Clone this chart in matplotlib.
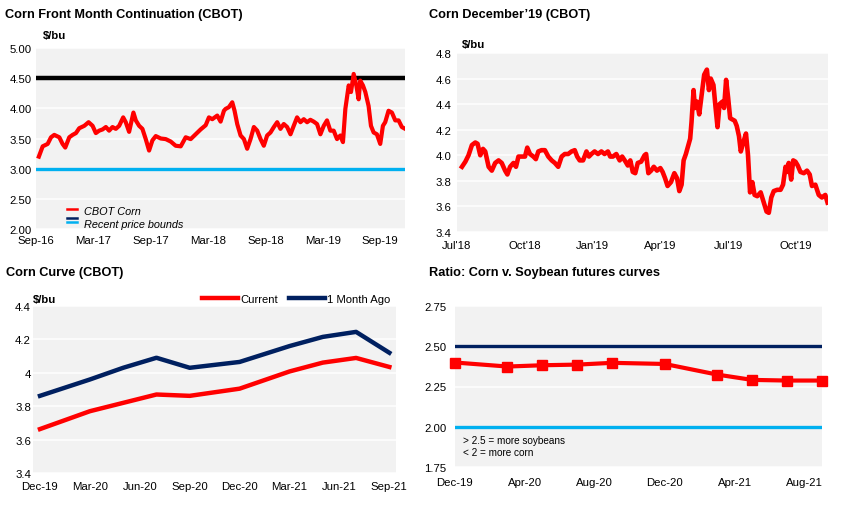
import matplotlib
matplotlib.use('Agg')
import matplotlib.pyplot as plt
from matplotlib.lines import Line2D
from matplotlib.legend_handler import HandlerBase

plt.rcParams['font.family'] = ['Liberation Sans', 'DejaVu Sans']

RED = '#FF0000'
NAVY = '#002060'
LBLUE = '#00B0F0'
GRAY = '#F2F2F2'

# --- Corn front month continuation (months since Sep-16) ---
front_m = [0.3, 0.70, 1.22, 1.57, 1.91, 2.44, 2.78, 3.06, 3.48, 3.83, 4.18, 4.52, 5.05, 5.50,
           5.92, 6.26, 6.61, 6.96, 7.31, 7.65, 8.00, 8.35, 8.70, 9.12, 9.39, 9.74, 10.19, 10.44,
           10.79, 11.13, 11.48, 11.83, 12.18, 12.53, 13.05, 13.57, 14.09, 14.61, 15.14, 15.66,
           16.18, 16.70, 17.22, 17.75, 18.09, 18.44, 18.96, 19.31, 19.66, 19.83, 20.18, 20.53,
           20.77, 21.05, 21.40, 21.75, 22.09, 22.44, 22.79, 23.14, 23.49, 23.83, 24.18, 24.53,
           24.88, 25.23, 25.57, 25.92, 26.27, 26.62, 26.96, 27.31, 27.66, 28.01, 28.36, 28.70,
           29.05, 29.40, 29.75, 30.10, 30.44, 30.79, 31.14, 31.49, 31.84, 32.11, 32.36, 32.71,
           32.95, 33.23, 33.51, 33.75, 33.92, 34.20, 34.45, 34.79, 35.04, 35.32, 35.66, 36.01,
           36.29, 36.53, 36.88, 37.23, 37.58, 37.93, 38.27, 38.62]
front_v = [3.20, 3.37, 3.41, 3.52, 3.56, 3.52, 3.41, 3.35, 3.52, 3.56, 3.59, 3.67, 3.71, 3.77,
           3.71, 3.59, 3.63, 3.65, 3.69, 3.63, 3.69, 3.66, 3.71, 3.85, 3.77, 3.61, 3.93, 3.80,
           3.71, 3.66, 3.49, 3.30, 3.47, 3.54, 3.50, 3.49, 3.45, 3.38, 3.37, 3.52,
           3.49, 3.57, 3.65, 3.72, 3.85, 3.82, 3.88, 3.78, 3.96, 3.99, 4.02, 4.10,
           3.96, 3.74, 3.55, 3.49, 3.33, 3.49, 3.69, 3.63, 3.49, 3.38, 3.55, 3.60,
           3.69, 3.77, 3.66, 3.74, 3.69, 3.57, 3.71, 3.85, 3.77, 3.82, 3.77, 3.81,
           3.78, 3.74, 3.57, 3.71, 3.80, 3.63, 3.63, 3.49, 3.55, 3.44, 3.99, 4.38,
           4.27, 4.57, 4.38, 4.15, 4.46, 4.38, 4.27, 4.04, 3.71, 3.60, 3.57, 3.41,
           3.71, 3.77, 3.96, 3.93, 3.80, 3.80, 3.69, 3.66]
front_ticks = ['Sep-16', 'Mar-17', 'Sep-17', 'Mar-18', 'Sep-18', 'Mar-19', 'Sep-19']
upper_bound = 4.5
lower_bound = 3.0

# --- Corn December'19 (months since Jul-18) ---
dec_m = [0.22, 0.37, 0.51, 0.66, 0.81, 0.91, 1.03, 1.15, 1.25, 1.40, 1.54, 1.69, 1.84, 1.98,
         2.13, 2.23, 2.35, 2.50, 2.61, 2.72, 2.86, 3.01, 3.11, 3.23, 3.38, 3.49, 3.60, 3.74,
         3.89, 4.04, 4.19, 4.33, 4.48, 4.63, 4.77, 4.92, 5.07, 5.21, 5.32, 5.43, 5.58, 5.73,
         5.84, 5.95, 6.09, 6.24, 6.39, 6.53, 6.68, 6.78, 6.90, 7.05, 7.20, 7.31, 7.46, 7.56,
         7.67, 7.78, 7.89, 8.00, 8.15, 8.30, 8.37, 8.47, 8.59, 8.71, 8.85, 9.00, 9.10, 9.21,
         9.32, 9.47, 9.62, 9.74, 9.84, 9.94, 10.03, 10.13, 10.24, 10.32, 10.38, 10.47, 10.53,
         10.62, 10.72, 10.82, 10.94, 11.06, 11.15, 11.23, 11.35, 11.44, 11.53, 11.62, 11.75,
         11.82, 11.91, 12.00, 12.09, 12.19, 12.29, 12.38, 12.48, 12.56, 12.67, 12.79, 12.88,
         12.97, 13.07, 13.17, 13.29, 13.44, 13.58, 13.70, 13.80, 13.91, 14.02, 14.17, 14.32,
         14.43, 14.54, 14.61, 14.68, 14.79, 14.88, 14.98, 15.08, 15.20, 15.35, 15.49, 15.61,
         15.71, 15.86, 16.01, 16.15, 16.30, 16.40]
dec_v = [3.91, 3.95, 4.00, 4.08, 4.10, 4.09, 4.00, 4.05, 4.03, 3.91, 3.88, 3.94, 3.96, 3.94,
         3.88, 3.85, 3.91, 3.94, 3.91, 3.99, 3.99, 3.99, 4.06, 4.01, 3.99, 3.97, 4.03, 4.04,
         4.04, 3.99, 3.96, 3.94, 3.91, 3.99, 4.01, 4.01, 4.03, 4.04, 3.99, 3.96, 3.96, 4.03,
         3.99, 4.01, 4.03, 4.01, 4.03, 4.01, 4.03, 3.99, 3.99, 4.01, 3.96, 3.99, 3.95, 3.92,
         3.96, 3.87, 3.86, 3.94, 3.95, 4.00, 4.01, 3.86, 3.88, 3.91, 3.88, 3.90, 3.87, 3.82,
         3.76, 3.79, 3.86, 3.82, 3.72, 3.77, 3.96, 4.01, 4.08, 4.13, 4.26, 4.51, 4.37,
         4.42, 4.32, 4.46, 4.63, 4.67, 4.51, 4.60, 4.55, 4.38, 4.22, 4.40, 4.42,
         4.37, 4.59, 4.45, 4.29, 4.28, 4.27, 4.23, 4.15, 4.03, 4.10, 4.17, 4.00,
         3.71, 3.79, 3.69, 3.68, 3.71, 3.63, 3.56, 3.55, 3.67, 3.72, 3.73, 3.73,
         3.77, 3.91, 3.87, 3.94, 3.81, 3.96, 3.95, 3.92, 3.87, 3.86, 3.88, 3.85,
         3.76, 3.77, 3.69, 3.67, 3.69, 3.63]
dec_ticks = ["Jul'18", "Oct'18", "Jan'19", "Apr'19", "Jul'19", "Oct'19"]

# --- Futures curves (months since Dec-19) ---
contract_m = [0, 3, 5, 7, 9, 12, 15, 17, 19, 21]
curve_now = [3.663, 3.770, 3.820, 3.870, 3.862, 3.905, 4.008, 4.061, 4.089, 4.035]
curve_month_ago = [3.862, 3.960, 4.030, 4.090, 4.030, 4.065, 4.160, 4.215, 4.245, 4.120]
curve_ticks = ['Dec-19', 'Mar-20', 'Jun-20', 'Sep-20', 'Dec-20', 'Mar-21', 'Jun-21', 'Sep-21']
ratio = [2.399, 2.374, 2.382, 2.386, 2.397, 2.390, 2.324, 2.291, 2.287, 2.287]
ratio_ticks = ['Dec-19', 'Apr-20', 'Aug-20', 'Dec-20', 'Apr-21', 'Aug-21']
ratio_hi = 2.5
ratio_lo = 2.0

W, H = 841, 506
TICK = 8.2
TITLE = 9.2
fig = plt.figure(figsize=(W / 100, H / 100), dpi=100)


def px_axes(l, t, r, b):
    ax = fig.add_axes([l / W, 1 - b / H, (r - l) / W, (b - t) / H])
    ax.set_facecolor(GRAY)
    for s in ax.spines.values():
        s.set_visible(False)
    ax.grid(axis='y', color='white', lw=1.1)
    ax.set_axisbelow(True)
    ax.tick_params(length=0, labelsize=TICK, colors='black')
    return ax


class StackedHandler(HandlerBase):
    def __init__(self, colors, fracs):
        super().__init__()
        self.colors = colors
        self.fracs = fracs

    def create_artists(self, legend, orig_handle, xdescent, ydescent, width, height, fontsize, trans):
        arts = []
        for c, f in zip(self.colors, self.fracs):
            arts.append(Line2D([-xdescent, -xdescent + width], [-ydescent + height * f] * 2,
                               color=c, lw=1.8, transform=trans))
        return arts


# chart 1
ax1 = px_axes(36, 49, 405, 230)
line1, = ax1.plot(front_m, front_v, color=RED, lw=3, zorder=3)
ax1.axhline(upper_bound, color='black', lw=3.2, zorder=2)
bnd = ax1.axhline(lower_bound, color=LBLUE, lw=2.4, zorder=2)
ax1.set_xlim(0, 38.6)
ax1.set_ylim(2.0, 5.0)
ax1.set_yticks([2.0, 2.5, 3.0, 3.5, 4.0, 4.5, 5.0])
ax1.set_yticklabels(['%.2f' % v for v in [2.0, 2.5, 3.0, 3.5, 4.0, 4.5, 5.0]])
ax1.set_xticks(range(0, 37, 6))
ax1.set_xticklabels(front_ticks)
ax1.tick_params(axis='y', pad=3)
ax1.tick_params(axis='x', pad=4)
ax1.legend([line1, bnd], ['CBOT Corn', 'Recent price bounds'],
           handler_map={line1: StackedHandler([RED], [0.75]),
                        bnd: StackedHandler([NAVY, LBLUE], [1.25, 0.7])},
           loc='lower left', bbox_to_anchor=(0.084, 0.0), frameon=False, borderpad=0,
           borderaxespad=0, handlelength=0.9, handletextpad=0.65, labelspacing=0.25,
           prop={'size': 7.8, 'style': 'italic'})
fig.text(5 / W, 1 - 15 / H, 'Corn Front Month Continuation (CBOT)', fontsize=TITLE,
         fontweight='bold', va='center', ha='left')
fig.text(43 / W, 1 - 36 / H, '$/bu', fontsize=8.2, fontweight='bold', va='center', ha='left')

# chart 2
ax2 = px_axes(457, 54, 828, 233)
ax2.plot(dec_m, dec_v, color=RED, lw=3.3, zorder=3)
ax2.set_xlim(0, 16.42)
ax2.set_ylim(3.4, 4.8)
yt2 = [3.4, 3.6, 3.8, 4.0, 4.2, 4.4, 4.6, 4.8]
ax2.set_yticks(yt2)
ax2.set_yticklabels(['%.1f' % v for v in yt2])
ax2.set_xticks(range(0, 16, 3))
ax2.set_xticklabels(dec_ticks)
ax2.tick_params(axis='y', pad=4)
ax2.tick_params(axis='x', pad=5.5)
fig.text(429 / W, 1 - 15 / H, 'Corn December\u201919 (CBOT)', fontsize=TITLE,
         fontweight='bold', va='center', ha='left')
fig.text(462 / W, 1 - 45 / H, '$/bu', fontsize=8.2, fontweight='bold', va='center', ha='left')

# chart 3
ax3 = px_axes(33, 307, 396, 474)
ax3.plot(contract_m, curve_now, color=RED, lw=3.2, label='Current', zorder=3)
ax3.plot(contract_m, curve_month_ago, color=NAVY, lw=3.2, label='1 Month Ago', zorder=3)
ax3.set_xlim(-0.42, 21.4)
ax3.set_ylim(3.4, 4.4)
yt3 = [3.4, 3.6, 3.8, 4.0, 4.2, 4.4]
ax3.set_yticks(yt3)
ax3.set_yticklabels(['3.4', '3.6', '3.8', '4', '4.2', '4.4'])
ax3.set_xticks(range(0, 22, 3))
ax3.set_xticklabels(curve_ticks)
ax3.tick_params(axis='y', pad=1.5)
ax3.tick_params(axis='x', pad=6)
ax3.legend(loc='center right', bbox_to_anchor=(0.983, 1.042), ncol=2, frameon=False,
           borderpad=0, borderaxespad=0, handlelength=3.2, handletextpad=0.15,
           columnspacing=1.0, prop={'size': 8.1})
fig.text(6 / W, 1 - 273 / H, 'Corn Curve (CBOT)', fontsize=TITLE, fontweight='bold',
         va='center', ha='left')
fig.text(33 / W, 1 - 300 / H, '$/bu', fontsize=8.2, fontweight='bold', va='center', ha='left')

# chart 4
ax4 = px_axes(455, 307, 822, 468)
ax4.axhline(ratio_hi, color=NAVY, lw=2.4, zorder=2)
ax4.axhline(ratio_lo, color=LBLUE, lw=2.4, zorder=2)
ax4.plot(contract_m, ratio, color=RED, lw=3, marker='s', markersize=6.5, zorder=3,
         clip_on=False)
ax4.set_xlim(0, 21)
ax4.set_ylim(1.75, 2.75)
yt4 = [1.75, 2.0, 2.25, 2.5, 2.75]
ax4.set_yticks(yt4)
ax4.set_yticklabels(['%.2f' % v for v in yt4])
ax4.set_xticks(range(0, 21, 4))
ax4.set_xticklabels(ratio_ticks)
ax4.tick_params(axis='y', pad=6)
ax4.tick_params(axis='x', pad=7.5)
ax4.text(0.022, 0.168, '> 2.5 = more soybeans', transform=ax4.transAxes, fontsize=7.2,
         va='center', ha='left')
ax4.text(0.022, 0.093, '< 2 = more corn', transform=ax4.transAxes, fontsize=7.2,
         va='center', ha='left')
fig.text(429 / W, 1 - 273 / H, 'Ratio: Corn v. Soybean futures curves', fontsize=TITLE,
         fontweight='bold', va='center', ha='left')

fig.savefig('out.png', dpi=100)
